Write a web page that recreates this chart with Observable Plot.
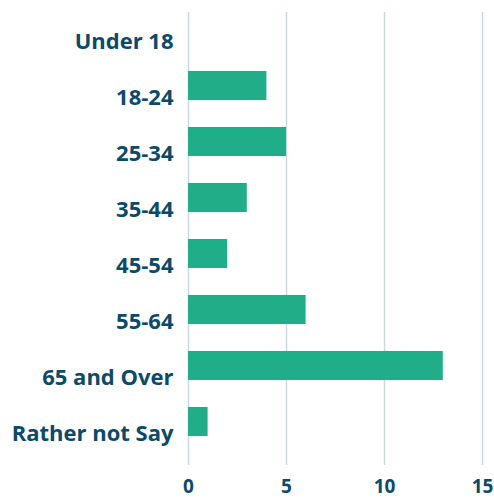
<!DOCTYPE html>
<html>
<head>
<meta charset="utf-8">
<script src="https://cdn.jsdelivr.net/npm/d3@7"></script>
<script src="https://cdn.jsdelivr.net/npm/@observablehq/plot@0.6"></script>
<style>
  html, body { margin: 0; padding: 0; background: #fff; }
</style>
</head>
<body>
<div id="chart"></div>
<script>
const categories = ["Under 18", "18-24", "25-34", "35-44", "45-54", "55-64", "65 and Over", "Rather not Say"];
const counts = [0, 4, 5, 3, 2, 6, 13, 1];
const xTicks = [0, 5, 10, 15];

const data = categories.map((c, i) => ({category: c, count: counts[i]}));
const textColor = "#0b4a68";
const font = "Open Sans";

const chart = Plot.plot({
  width: 494,
  height: 498,
  marginLeft: 188,
  marginRight: 12,
  marginTop: 12,
  marginBottom: 33,
  style: {fontFamily: font, background: "#fff"},
  x: {domain: [0, 15], ticks: xTicks, label: null},
  y: {domain: categories, padding: 0, label: null},
  marks: [
    Plot.gridX(xTicks, {stroke: "#c9d9e0", strokeOpacity: 1, strokeWidth: 1.5}),
    Plot.barX(data, {x: "count", y: "category", fill: "#20ae89", insetBottom: 27, insetTop: 0}),
    Plot.axisY({label: null, tickSize: 0, tickPadding: 15, fontSize: 22, fontWeight: 700, fill: textColor, dy: -2}),
    Plot.axisX({label: null, ticks: xTicks, tickSize: 0, tickPadding: 14, fontSize: 19, fontWeight: 700, fill: textColor, tickFormat: d => String(d)})
  ]
});
document.getElementById("chart").appendChild(chart);
</script>
</body>
</html>
